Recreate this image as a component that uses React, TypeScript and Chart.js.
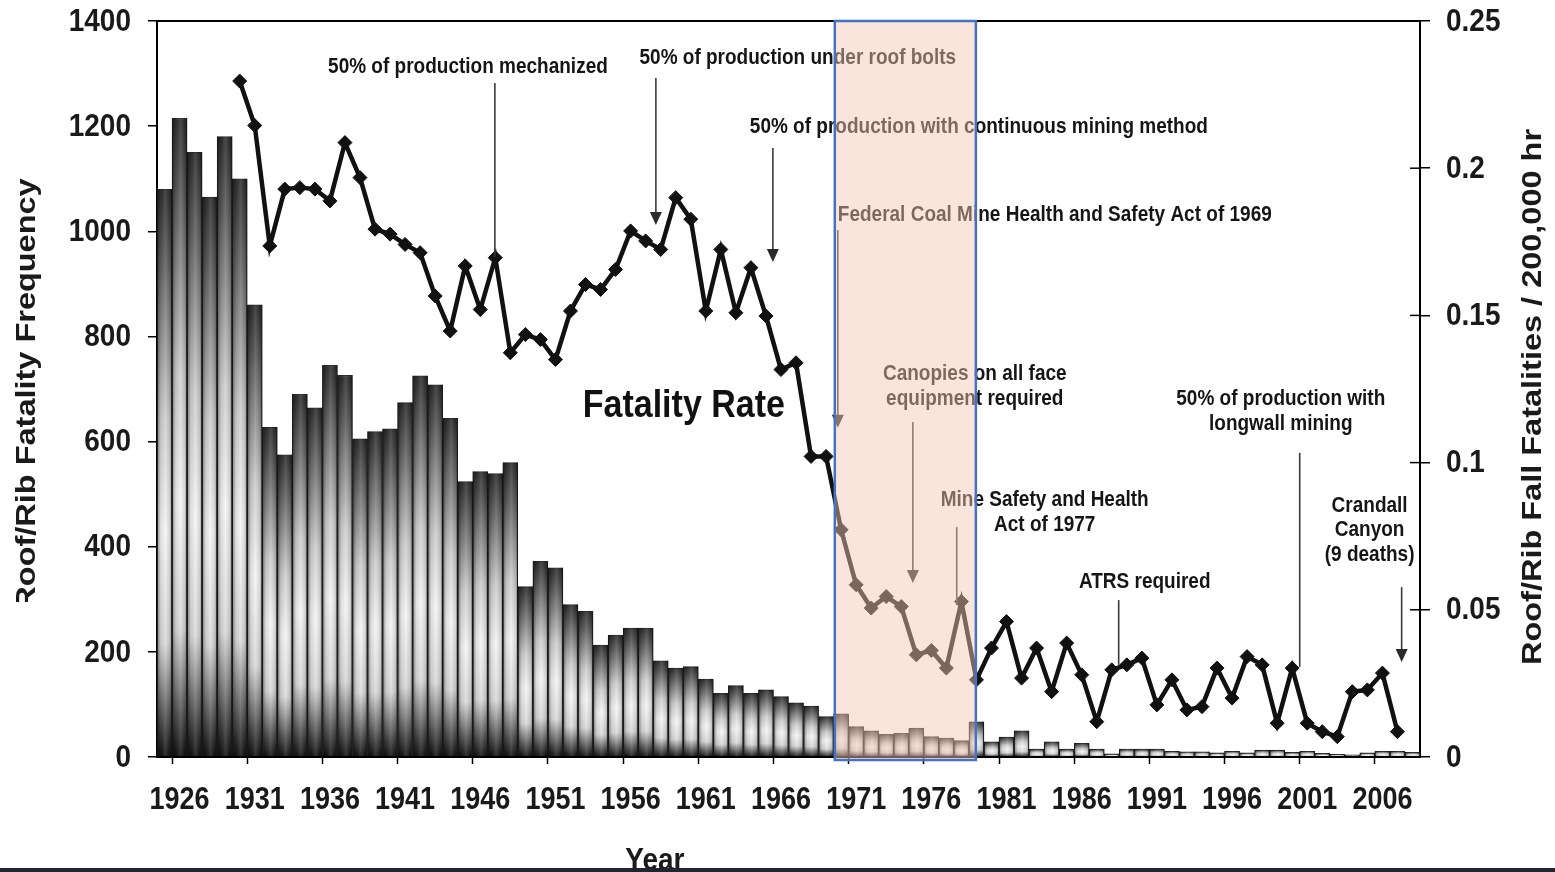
import React, { useEffect, useRef } from 'react';
import { Chart, registerables } from 'chart.js';

Chart.register(...registerables);

// ---------- data ----------
const FIRST_YEAR = 1925;
const LAST_YEAR = 2008;
const years: string[] = [];
for (let y = FIRST_YEAR; y <= LAST_YEAR; y++) years.push(String(y));

// Roof/rib fatality frequency, 1925..2008
const roofRibFatalities = [
  1080, 1215, 1150, 1065, 1180, 1100, 860, 627, 575, 690,
  664, 745, 726, 605, 619, 624, 674, 725, 708, 644,
  524, 543, 539, 560, 324, 372, 360, 290, 277, 213,
  232, 245, 245, 183, 169, 172, 148, 121, 136, 121,
  128, 115, 103, 97, 77, 82, 58, 50, 43, 45,
  55, 39, 36, 31, 67, 29, 38, 50, 15, 29,
  15, 26, 15, 6, 15, 15, 15, 11, 10, 10,
  8, 11, 8, 13, 13, 9, 11, 7, 5, 4,
  8, 11, 11, 9,
];

// Fatality rate per 200,000 hr, 1930..2007
const RATE_FIRST_YEAR = 1930;
const fatalityRate = [
  0.2296, 0.2145, 0.1736, 0.1929, 0.1934, 0.1929, 0.1889, 0.2087, 0.1968, 0.1793,
  0.1776, 0.1741, 0.1713, 0.1566, 0.1447, 0.1668, 0.152, 0.1696, 0.1373, 0.1435,
  0.1418, 0.135, 0.1515, 0.1605, 0.1588, 0.1656, 0.1787, 0.1753, 0.1724, 0.19,
  0.1827, 0.1515, 0.1724, 0.1509, 0.1662, 0.1498, 0.1316, 0.1339, 0.1021, 0.1021,
  0.0772, 0.0585, 0.0506, 0.0545, 0.0511, 0.0347, 0.0362, 0.0302, 0.0528, 0.0262,
  0.037, 0.046, 0.0268, 0.037, 0.0222, 0.0387, 0.0279, 0.012, 0.0296, 0.0313,
  0.0336, 0.0177, 0.0262, 0.016, 0.0171, 0.0302, 0.02, 0.0341, 0.0313, 0.0115,
  0.0302, 0.0115, 0.0086, 0.0069, 0.0222, 0.0228, 0.0285, 0.0086,
];

const leftTickLabels = ['0', '200', '400', '600', '800', '1000', '1200', '1400'];
const rightTickLabels = ['0', '0.05', '0.1', '0.15', '0.2', '0.25'];
const xTickLabels = ['1926', '1931', '1936', '1941', '1946', '1951', '1956', '1961', '1966', '1971', '1976', '1981', '1986', '1991', '1996', '2001', '2006'];

// annotations placed in (year, rate) units
const annotationLabels = [
  { lines: ['50% of production mechanized'], year: 1945.18, rate: 0.2344 },
  { lines: ['50% of production under roof bolts'], year: 1967.12, rate: 0.2374 },
  { lines: ['50% of production with continuous mining method'], year: 1979.16, rate: 0.214 },
  { lines: ['Federal Coal Mine Health and Safety Act of 1969'], year: 1984.21, rate: 0.1841 },
  { lines: ['Canopies on all face', 'equipment required'], year: 1978.89, rate: 0.1301 },
  { lines: ['Mine Safety and Health', 'Act of 1977'], year: 1983.54, rate: 0.0873 },
  { lines: ['50% of production with', 'longwall mining'], year: 1999.24, rate: 0.1216 },
  { lines: ['ATRS required'], year: 1990.19, rate: 0.0594 },
  { lines: ['Crandall', 'Canyon', '(9 deaths)'], year: 2005.15, rate: 0.0853 },
];
const annotationArrows = [
  { year: 1946.97, from: 0.2289, to: 0.1698, head: false },
  { year: 1957.68, from: 0.2306, to: 0.1807, head: true },
  { year: 1965.46, from: 0.2069, to: 0.1681, head: true },
  { year: 1969.78, from: 0.179, to: 0.1118, head: true },
  { year: 1974.77, from: 0.1138, to: 0.0591, head: true },
  { year: 1977.69, from: 0.0781, to: 0.0516, head: false },
  { year: 1988.46, from: 0.0533, to: 0.0313, head: false },
  { year: 2000.5, from: 0.1033, to: 0.0306, head: false },
  { year: 2007.28, from: 0.0577, to: 0.0323, head: true },
];
const seriesLabel = { text: 'Fatality Rate', year: 1959.54, rate: 0.1189 };
const highlightYears = [1969.58, 1978.96];

// ---------- helpers ----------
const FONT = '"Liberation Sans", Arial, Helvetica, sans-serif';
const SY = 1.15;

function drawText(
  ctx: CanvasRenderingContext2D, s: string, x: number, y: number, size: number,
  align: CanvasTextAlign = 'center', baseline: CanvasTextBaseline = 'middle',
  rot = 0, color = '#151515', sy = SY,
) {
  ctx.save();
  ctx.translate(x, y);
  ctx.scale(1, sy);
  if (rot) ctx.rotate(rot);
  ctx.font = `bold ${size}px ${FONT}`;
  ctx.fillStyle = color;
  ctx.textAlign = align;
  ctx.textBaseline = baseline;
  ctx.fillText(s, 0, 0);
  ctx.restore();
}

function xOfYear(chart: any, yr: number) {
  const xs = chart.scales.x;
  const p0 = xs.getPixelForValue(0);
  const p1 = xs.getPixelForValue(1);
  return p0 + (yr - FIRST_YEAR) * (p1 - p0);
}
function yOfRate(chart: any, r: number) {
  return chart.scales.y1.getPixelForValue(r);
}

const decorPlugin = {
  id: 'decor',
  afterDatasetDraw(chart: any, args: any) {
    if (args.meta.type !== 'bar') return;
    const ctx: CanvasRenderingContext2D = chart.ctx;
    ctx.save();
    for (const el of args.meta.data) {
      const p = el.getProps(['x', 'y', 'base', 'width'], true);
      const h = p.base - p.y;
      if (!(h > 0.5)) continue;
      const l = p.x - p.width / 2;
      const g = ctx.createLinearGradient(l, 0, l + p.width, 0);
      g.addColorStop(0, 'rgba(0,0,0,0.45)');
      g.addColorStop(0.25, 'rgba(0,0,0,0.08)');
      g.addColorStop(0.55, 'rgba(255,255,255,0.12)');
      g.addColorStop(0.85, 'rgba(0,0,0,0.12)');
      g.addColorStop(1, 'rgba(0,0,0,0.45)');
      ctx.fillStyle = g;
      ctx.fillRect(l, p.y, p.width, h);
    }
    ctx.restore();
  },
  afterDatasetsDraw(chart: any) {
    const ctx: CanvasRenderingContext2D = chart.ctx;
    // arrows
    ctx.save();
    ctx.strokeStyle = '#3a3a3a';
    ctx.fillStyle = '#2a2a2a';
    ctx.lineWidth = 1.6;
    for (const a of annotationArrows) {
      const x = xOfYear(chart, a.year);
      const y0 = yOfRate(chart, a.from);
      const y1 = yOfRate(chart, a.to);
      ctx.beginPath();
      ctx.moveTo(x, y0);
      ctx.lineTo(x, a.head ? y1 - 10 : y1);
      ctx.stroke();
      if (a.head) {
        ctx.beginPath();
        ctx.moveTo(x - 6, y1 - 13);
        ctx.lineTo(x + 6, y1 - 13);
        ctx.lineTo(x, y1);
        ctx.closePath();
        ctx.fill();
      }
    }
    ctx.restore();
    // labels
    for (const lab of annotationLabels) {
      const x = xOfYear(chart, lab.year);
      const y = yOfRate(chart, lab.rate);
      lab.lines.forEach((ln, i) => drawText(ctx, ln, x, y + i * 24.5, 19));
    }
    drawText(ctx, seriesLabel.text, xOfYear(chart, seriesLabel.year), yOfRate(chart, seriesLabel.rate), 34, 'center', 'middle', 0, '#111', 1.12);
  },
  afterDraw(chart: any) {
    const ctx: CanvasRenderingContext2D = chart.ctx;
    const area = chart.chartArea;
    // top frame
    ctx.save();
    ctx.strokeStyle = '#000';
    ctx.lineWidth = 2;
    ctx.beginPath();
    ctx.moveTo(area.left, area.top);
    ctx.lineTo(area.right, area.top);
    ctx.stroke();
    // inner ticks on the right axis
    ctx.lineWidth = 1.5;
    for (const lbl of rightTickLabels) {
      const y = chart.scales.y1.getPixelForValue(Number(lbl));
      ctx.beginPath();
      ctx.moveTo(area.right - 10, y);
      ctx.lineTo(area.right, y);
      ctx.stroke();
    }
    // highlight band
    const hx0 = xOfYear(chart, highlightYears[0]);
    const hx1 = xOfYear(chart, highlightYears[1]);
    ctx.fillStyle = 'rgba(242,200,178,0.47)';
    ctx.fillRect(hx0, area.top, hx1 - hx0, area.bottom - area.top + 3);
    ctx.strokeStyle = '#4472C4';
    ctx.lineWidth = 2.5;
    ctx.strokeRect(hx0, area.top, hx1 - hx0, area.bottom - area.top + 3);
    ctx.restore();

    // tick labels
    for (const lbl of leftTickLabels) {
      const y = chart.scales.y.getPixelForValue(Number(lbl));
      drawText(ctx, lbl, area.left - 26, y + 1, 28, 'right', 'middle', 0, '#1a1a1a', 1.12);
    }
    for (const lbl of rightTickLabels) {
      const y = chart.scales.y1.getPixelForValue(Number(lbl));
      drawText(ctx, lbl, area.right + 26, y + 1, 28, 'left', 'middle', 0, '#1a1a1a', 1.12);
    }
    for (const lbl of xTickLabels) {
      const x = chart.scales.x.getPixelForValue(years.indexOf(lbl));
      drawText(ctx, lbl, x, area.bottom + 44, 27, 'center', 'middle', 0, '#1a1a1a', 1.13);
    }
    // axis titles
    ctx.save();
    ctx.beginPath();
    ctx.rect(0, 0, 80, 602);
    ctx.clip();
    drawText(ctx, 'Roof/Rib Fatality Frequency', 27, 394, 28, 'center', 'middle', -Math.PI / 2, '#1a1a1a', 1.16);
    ctx.restore();
    drawText(ctx, 'Roof/Rib Fall Fatalities / 200,000 hr', 1533, 397, 28, 'center', 'middle', -Math.PI / 2, '#1a1a1a', 1.16);
    drawText(ctx, 'Year', xOfYear(chart, 1957.61), area.bottom + 113, 28, 'center', 'alphabetic', 0, '#1a1a1a', 1.15);
    // bottom dark strip
    ctx.save();
    ctx.fillStyle = '#1d2630';
    ctx.fillRect(0, 868, chart.width, 4);
    ctx.restore();
  },
};

const barFill = (c: any) => {
  const chart = c.chart;
  if (c.type !== 'data' || !chart.chartArea) return '#bbbbbb';
  const ys = chart.scales.y;
  const v = c.raw as number;
  const top = ys.getPixelForValue(v);
  const bot = ys.getPixelForValue(0);
  if (!isFinite(top) || bot - top < 1) return '#dddddd';
  const g = chart.ctx.createLinearGradient(0, top, 0, bot);
  g.addColorStop(0, '#2e2e2e');
  g.addColorStop(0.12, '#5c5c5c');
  g.addColorStop(0.4, '#cfcfcf');
  g.addColorStop(0.6, '#f5f5f5');
  g.addColorStop(0.8, '#dadada');
  g.addColorStop(0.93, '#555555');
  g.addColorStop(1, '#111111');
  return g;
};

export default function App() {
  const ref = useRef<HTMLCanvasElement>(null);
  useEffect(() => {
    const canvas = ref.current;
    if (!canvas) return;
    const rateData = years.map((y) => {
      const i = Number(y) - RATE_FIRST_YEAR;
      return i >= 0 && i < fatalityRate.length ? fatalityRate[i] : null;
    });
    const chart = new Chart(canvas, {
      type: 'bar',
      data: {
        labels: years,
        datasets: [
          {
            type: 'line',
            label: 'Fatality Rate',
            data: rateData,
            yAxisID: 'y1',
            order: 1,
            borderColor: '#111',
            borderWidth: 4.5,
            pointStyle: 'rectRot',
            pointRadius: 7,
            pointBackgroundColor: '#111',
            pointBorderColor: '#111',
            pointBorderWidth: 1,
            tension: 0,
            spanGaps: false,
          } as any,
          {
            type: 'bar',
            label: 'Roof/Rib Fatality Frequency',
            data: roofRibFatalities,
            yAxisID: 'y',
            order: 2,
            categoryPercentage: 1,
            barPercentage: 1,
            backgroundColor: barFill,
            borderColor: '#262626',
            borderWidth: 1.2,
          } as any,
        ],
      },
      options: {
        responsive: false,
        animation: false,
        layout: { padding: { top: 21, left: 0, right: 0, bottom: 0 } },
        plugins: { legend: { display: false }, tooltip: { enabled: false } },
        scales: {
          x: {
            type: 'category',
            offset: true,
            ticks: { display: false, autoSkip: false },
            grid: {
              offset: true,
              drawOnChartArea: false,
              drawTicks: true,
              tickLength: 7,
              tickWidth: 1.5,
              color: '#000',
              tickColor: (c: any) => ((c.index - 1) % 5 === 0 && c.index > 0 ? '#000' : 'rgba(0,0,0,0)'),
            },
            border: { display: true, color: '#000', width: 2, z: 1 },
            afterFit: (s: any) => { s.height = 115; },
          },
          y: {
            position: 'left',
            min: 0,
            max: 1400,
            ticks: { display: false, stepSize: 200 },
            grid: { drawOnChartArea: false, drawTicks: true, tickLength: 9, color: '#000', lineWidth: 1.5 },
            border: { display: true, color: '#000', width: 2 },
            afterFit: (s: any) => { s.width = 157; },
          },
          y1: {
            position: 'right',
            min: 0,
            max: 0.25,
            ticks: { display: false, stepSize: 0.05 },
            grid: { drawOnChartArea: false, drawTicks: true, tickLength: 10, color: '#000', lineWidth: 1.5 },
            border: { display: true, color: '#000', width: 2 },
            afterFit: (s: any) => { s.width = 135; },
          },
        },
      } as any,
      plugins: [decorPlugin as any],
    });
    return () => chart.destroy();
  }, []);
  return (
    <div style={{ position: 'fixed', left: 0, top: 0, width: 1555, height: 872, background: '#ffffff' }}>
      <canvas ref={ref} width={1555} height={872} style={{ display: 'block', width: 1555, height: 872 }} />
    </div>
  );
}
